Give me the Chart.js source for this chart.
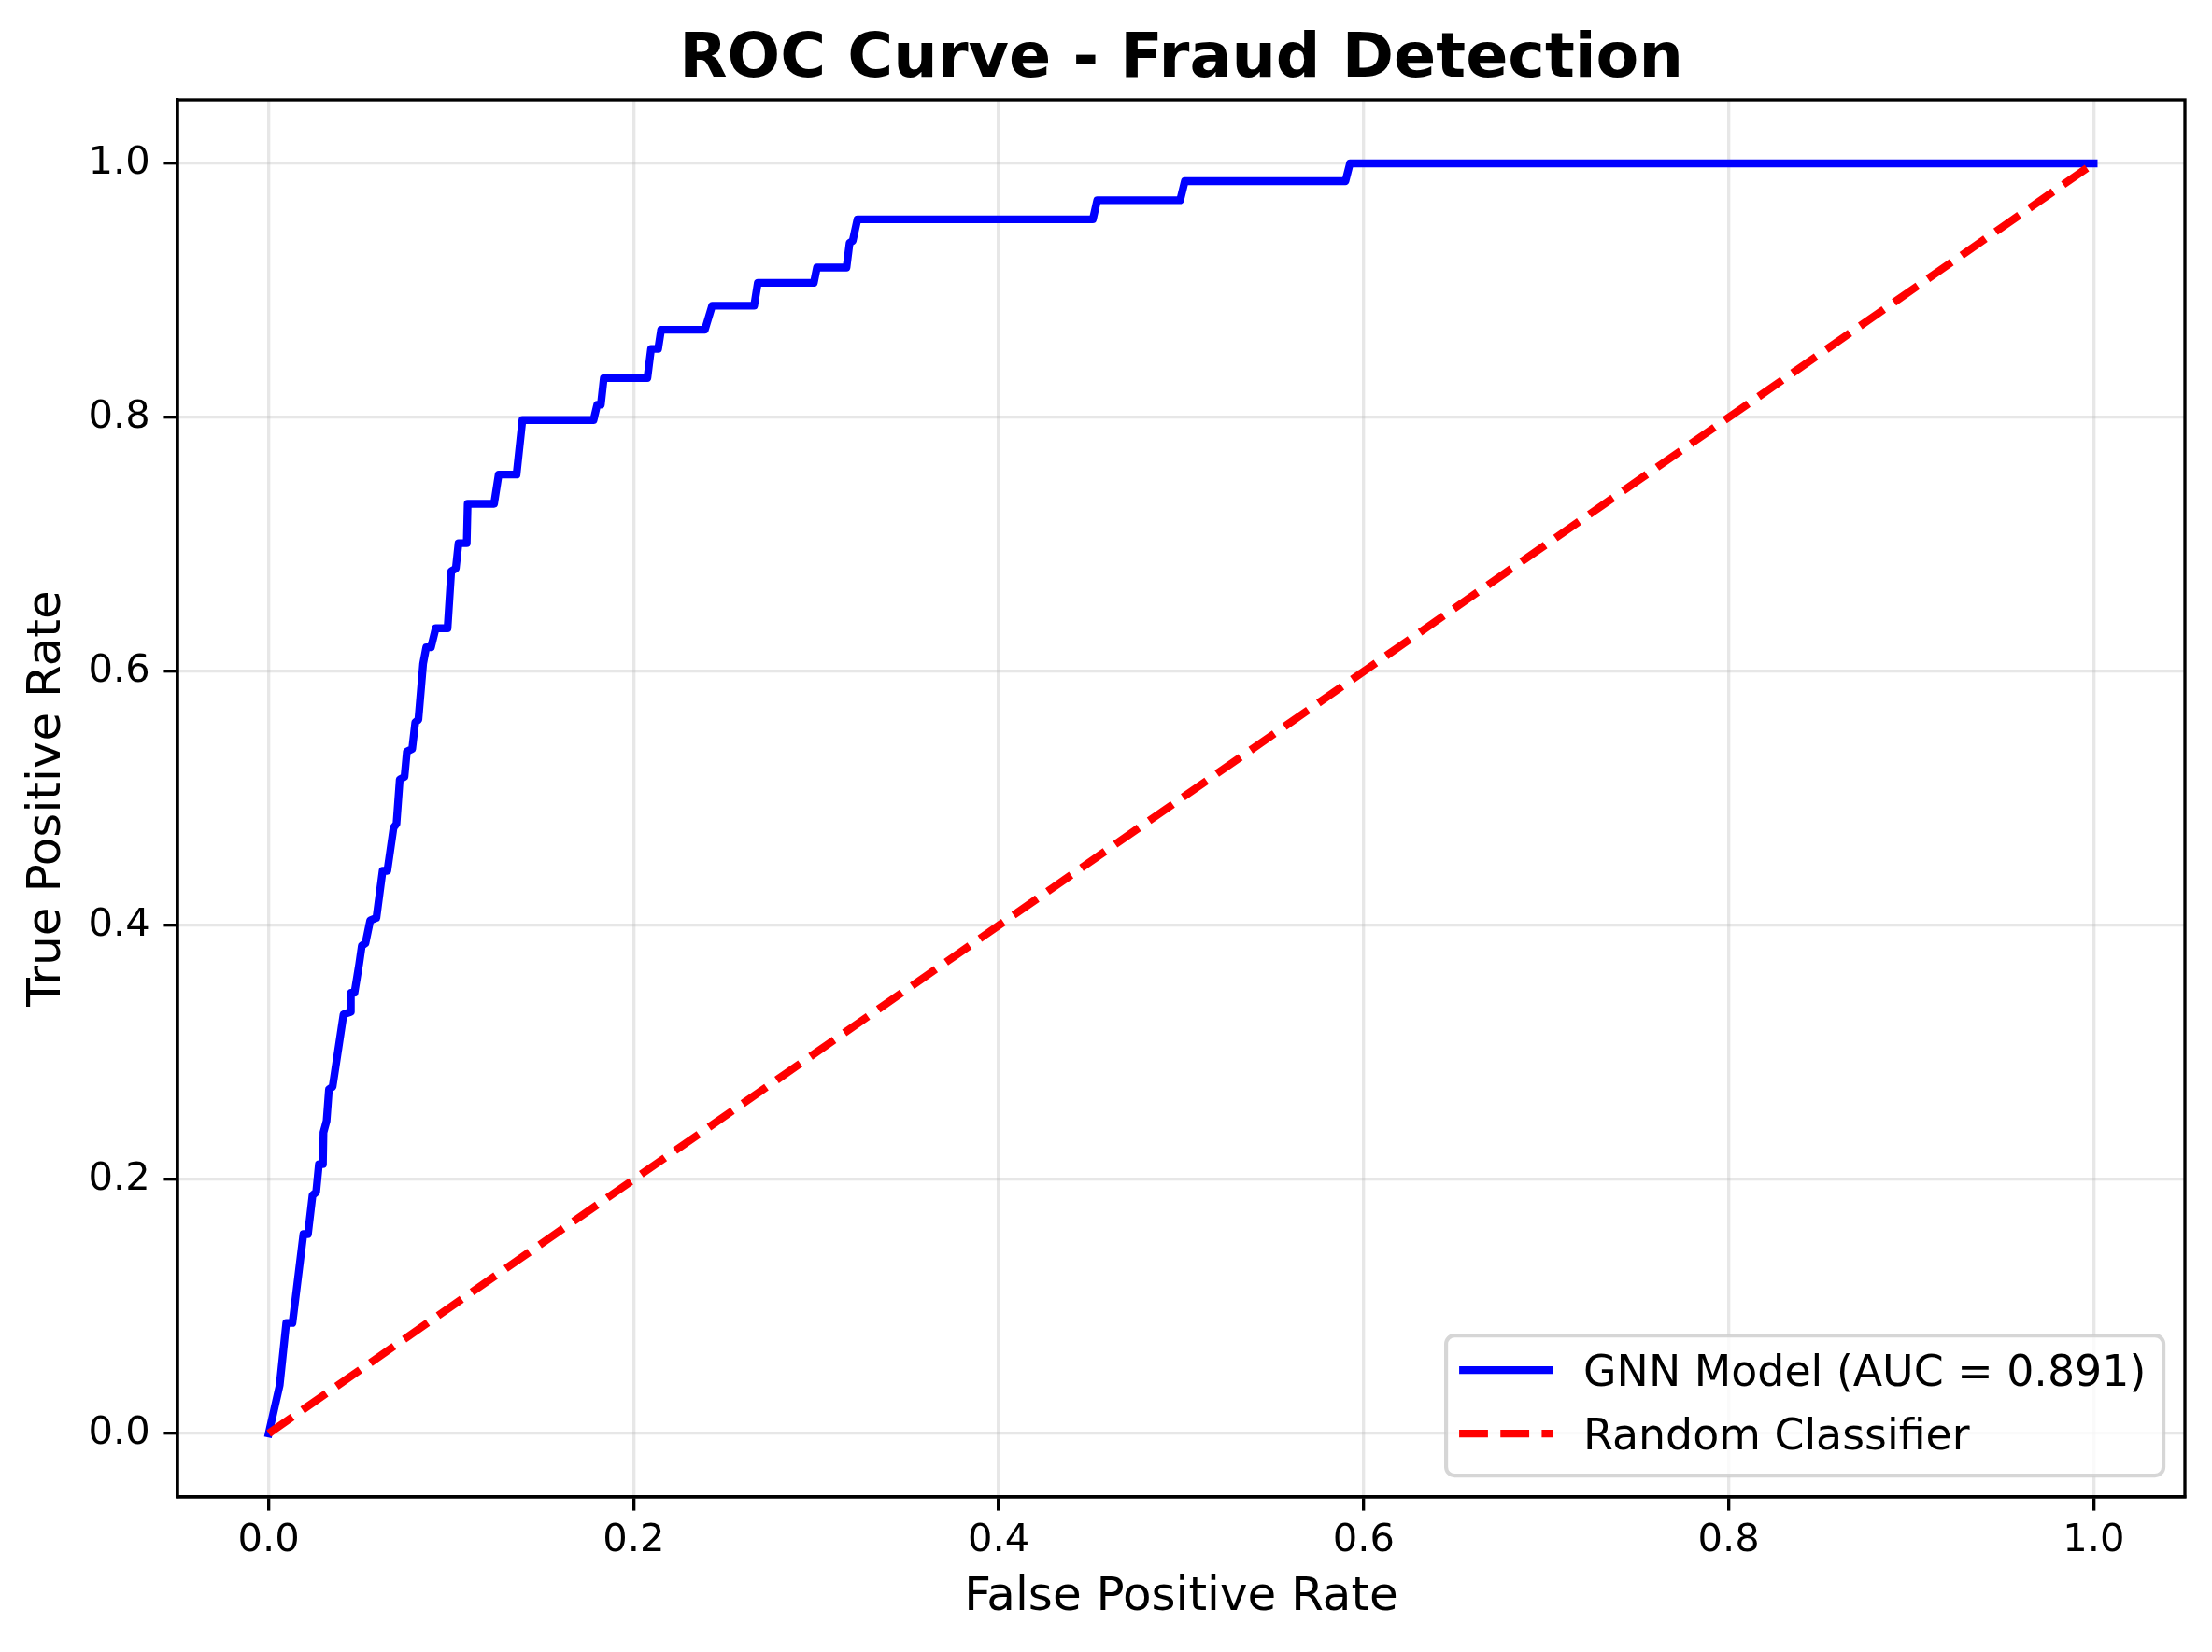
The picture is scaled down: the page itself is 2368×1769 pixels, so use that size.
<!DOCTYPE html>
<html>
<head>
<meta charset="utf-8">
<script src="https://cdn.jsdelivr.net/npm/chart.js@4.4.1/dist/chart.umd.min.js"></script>
<style>
  html, body { margin: 0; padding: 0; background: #ffffff; }
  #wrap { width: 2368px; height: 1769px; }
  canvas { display: block; }
</style>
</head>
<body>
<div id="wrap"><canvas id="c" width="2368" height="1769"></canvas></div>
<script>
// ---- Data ----
const chartTitle = 'ROC Curve - Fraud Detection';
const xAxisTitle = 'False Positive Rate';
const yAxisTitle = 'True Positive Rate';
const modelLabel = 'GNN Model (AUC = 0.891)';
const randomLabel = 'Random Classifier';

const modelFPR = [
  0, 0.006, 0.0096, 0.013, 0.019, 0.0215, 0.024, 0.026, 0.0275, 0.0297,
  0.030, 0.0317, 0.033, 0.035, 0.037, 0.041, 0.045, 0.045, 0.047,
  0.0496, 0.051, 0.053, 0.0556, 0.059, 0.0624, 0.065, 0.0684, 0.070, 0.0718,
  0.0744, 0.0757, 0.0786, 0.0803, 0.082, 0.0846, 0.0863, 0.0889, 0.0915, 0.098,
  0.100, 0.1025, 0.104, 0.1085, 0.109, 0.1235, 0.126, 0.1358, 0.139, 0.178,
  0.180, 0.182, 0.1836, 0.2075, 0.2095, 0.2134, 0.215, 0.239, 0.243, 0.266,
  0.268, 0.2987, 0.3004, 0.3166, 0.3183, 0.320, 0.3226, 0.4516, 0.454, 0.4994,
  0.502, 0.590, 0.5925, 1.0
];
const modelTPR = [
  0, 0.038, 0.087, 0.087, 0.157, 0.157, 0.1875, 0.19, 0.212, 0.212,
  0.237, 0.246, 0.271, 0.273, 0.292, 0.330, 0.332, 0.347, 0.347,
  0.370, 0.384, 0.386, 0.404, 0.406, 0.443, 0.443, 0.477, 0.480, 0.515,
  0.517, 0.537, 0.539, 0.560, 0.562, 0.606, 0.619, 0.619, 0.634, 0.634,
  0.679, 0.681, 0.701, 0.701, 0.732, 0.732, 0.755, 0.755, 0.798, 0.798,
  0.810, 0.810, 0.831, 0.831, 0.854, 0.854, 0.869, 0.869, 0.888, 0.888,
  0.906, 0.906, 0.918, 0.918, 0.9375, 0.939, 0.956, 0.956, 0.971, 0.971,
  0.986, 0.986, 1.0, 1.0
];
const randomFPR = [0, 1];
const randomTPR = [0, 1];
const tickValues = [0, 0.2, 0.4, 0.6, 0.8, 1.0];
const axisMin = -0.05;
const axisMax = 1.05;

// ---- Styles ----
const PT = 300 / 72;
const FONT = "'DejaVu Sans', 'Liberation Sans', sans-serif";
const BLUE = '#0000ff';
const RED = '#ff0000';
const LW = 2 * PT;
const DASH = [3.7 * 2 * PT, 1.6 * 2 * PT];
const GRID = 'rgba(176,176,176,0.3)';
const SPINE = 0.8 * PT;

const toPoints = (xs, ys) => xs.map((x, i) => ({ x: x, y: ys[i] }));

function scaleOpts(titleText, isX) {
  return {
    type: 'linear',
    min: axisMin,
    max: axisMax,
    afterBuildTicks: (scale) => { scale.ticks = tickValues.map(v => ({ value: v })); },
    afterFit: (scale) => {
      if (isX) scale.height = 166; else scale.width = 190;
    },
    ticks: {
      callback: (v) => Number(v).toFixed(1),
      font: { family: FONT, size: 10 * PT },
      color: '#000000',
      padding: isX ? 8 : 3.5 * PT,
      maxRotation: 0,
      autoSkip: false
    },
    grid: {
      color: GRID,
      lineWidth: 0.8 * PT,
      drawTicks: true,
      tickLength: 3.5 * PT,
      tickColor: '#000000',
      tickWidth: SPINE
    },
    border: { display: true, color: '#000000', width: SPINE },
    title: {
      display: true,
      text: titleText,
      color: '#000000',
      font: { family: FONT, size: 12 * PT },
      padding: isX ? { top: 0, bottom: 28 } : { top: 21, bottom: 0 }
    }
  };
}

const framePlugin = {
  id: 'frame',
  afterDraw(chart) {
    const { ctx, chartArea: a } = chart;
    ctx.save();
    ctx.strokeStyle = '#000000';
    ctx.lineWidth = SPINE;
    ctx.strokeRect(a.left, a.top, a.right - a.left, a.bottom - a.top);
    ctx.restore();
  }
};

const legendPlugin = {
  id: 'mplLegend',
  afterDraw(chart) {
    const { ctx, chartArea: a } = chart;
    const fs = 11 * PT;
    const pad = 0.5 * fs;
    const w = 768, h = 150;
    const right = a.right - pad;
    const bottom = a.bottom - pad;
    const left = right - w, top = bottom - h;
    const r = 0.2 * fs;
    ctx.save();
    ctx.beginPath();
    ctx.moveTo(left + r, top);
    ctx.lineTo(right - r, top);
    ctx.arcTo(right, top, right, top + r, r);
    ctx.lineTo(right, bottom - r);
    ctx.arcTo(right, bottom, right - r, bottom, r);
    ctx.lineTo(left + r, bottom);
    ctx.arcTo(left, bottom, left, bottom - r, r);
    ctx.lineTo(left, top + r);
    ctx.arcTo(left, top, left + r, top, r);
    ctx.closePath();
    ctx.fillStyle = 'rgba(255,255,255,0.8)';
    ctx.fill();
    ctx.strokeStyle = 'rgba(204,204,204,0.8)';
    ctx.lineWidth = 1.0 * PT;
    ctx.stroke();

    const items = chart.data.datasets.map(ds => ({ label: ds.label, color: ds.borderColor, dash: ds.borderDash || [] }));
    const rows = [top + 37, top + 105];
    items.forEach((it, i) => {
      const y = rows[i];
      ctx.beginPath();
      ctx.setLineDash(it.dash);
      ctx.lineCap = 'butt';
      ctx.strokeStyle = it.color;
      ctx.lineWidth = LW;
      ctx.moveTo(left + 14, y);
      ctx.lineTo(left + 114, y);
      ctx.stroke();
      ctx.setLineDash([]);
      ctx.fillStyle = '#000000';
      ctx.font = fs + 'px ' + FONT;
      ctx.textAlign = 'left';
      ctx.textBaseline = 'alphabetic';
      ctx.fillText(it.label, left + 147, y + 0.365 * fs);
    });
    ctx.restore();
  }
};

new Chart(document.getElementById('c'), {
  type: 'line',
  data: {
    datasets: [
      {
        label: modelLabel,
        data: toPoints(modelFPR, modelTPR),
        borderColor: BLUE,
        backgroundColor: BLUE,
        borderWidth: LW,
        pointRadius: 0,
        tension: 0,
        fill: false,
        borderJoinStyle: 'round',
        borderCapStyle: 'square',
        order: 1
      },
      {
        label: randomLabel,
        data: toPoints(randomFPR, randomTPR),
        borderColor: RED,
        backgroundColor: RED,
        borderWidth: LW,
        borderDash: DASH,
        borderCapStyle: 'butt',
        pointRadius: 0,
        tension: 0,
        fill: false,
        order: 0
      }
    ]
  },
  options: {
    responsive: false,
    maintainAspectRatio: false,
    devicePixelRatio: 1,
    animation: false,
    events: [],
    parsing: true,
    layout: { padding: { left: 0, right: 29, top: 0, bottom: 0 } },
    scales: {
      x: scaleOpts(xAxisTitle, true),
      y: scaleOpts(yAxisTitle, false)
    },
    plugins: {
      legend: { display: false },
      tooltip: { enabled: false },
      title: {
        display: true,
        text: chartTitle,
        color: '#000000',
        fullSize: false,
        font: { family: FONT, size: 16 * PT, weight: 'bold' },
        padding: { top: 25, bottom: 2 }
      }
    }
  },
  plugins: [framePlugin, legendPlugin]
});
</script>
</body>
</html>
